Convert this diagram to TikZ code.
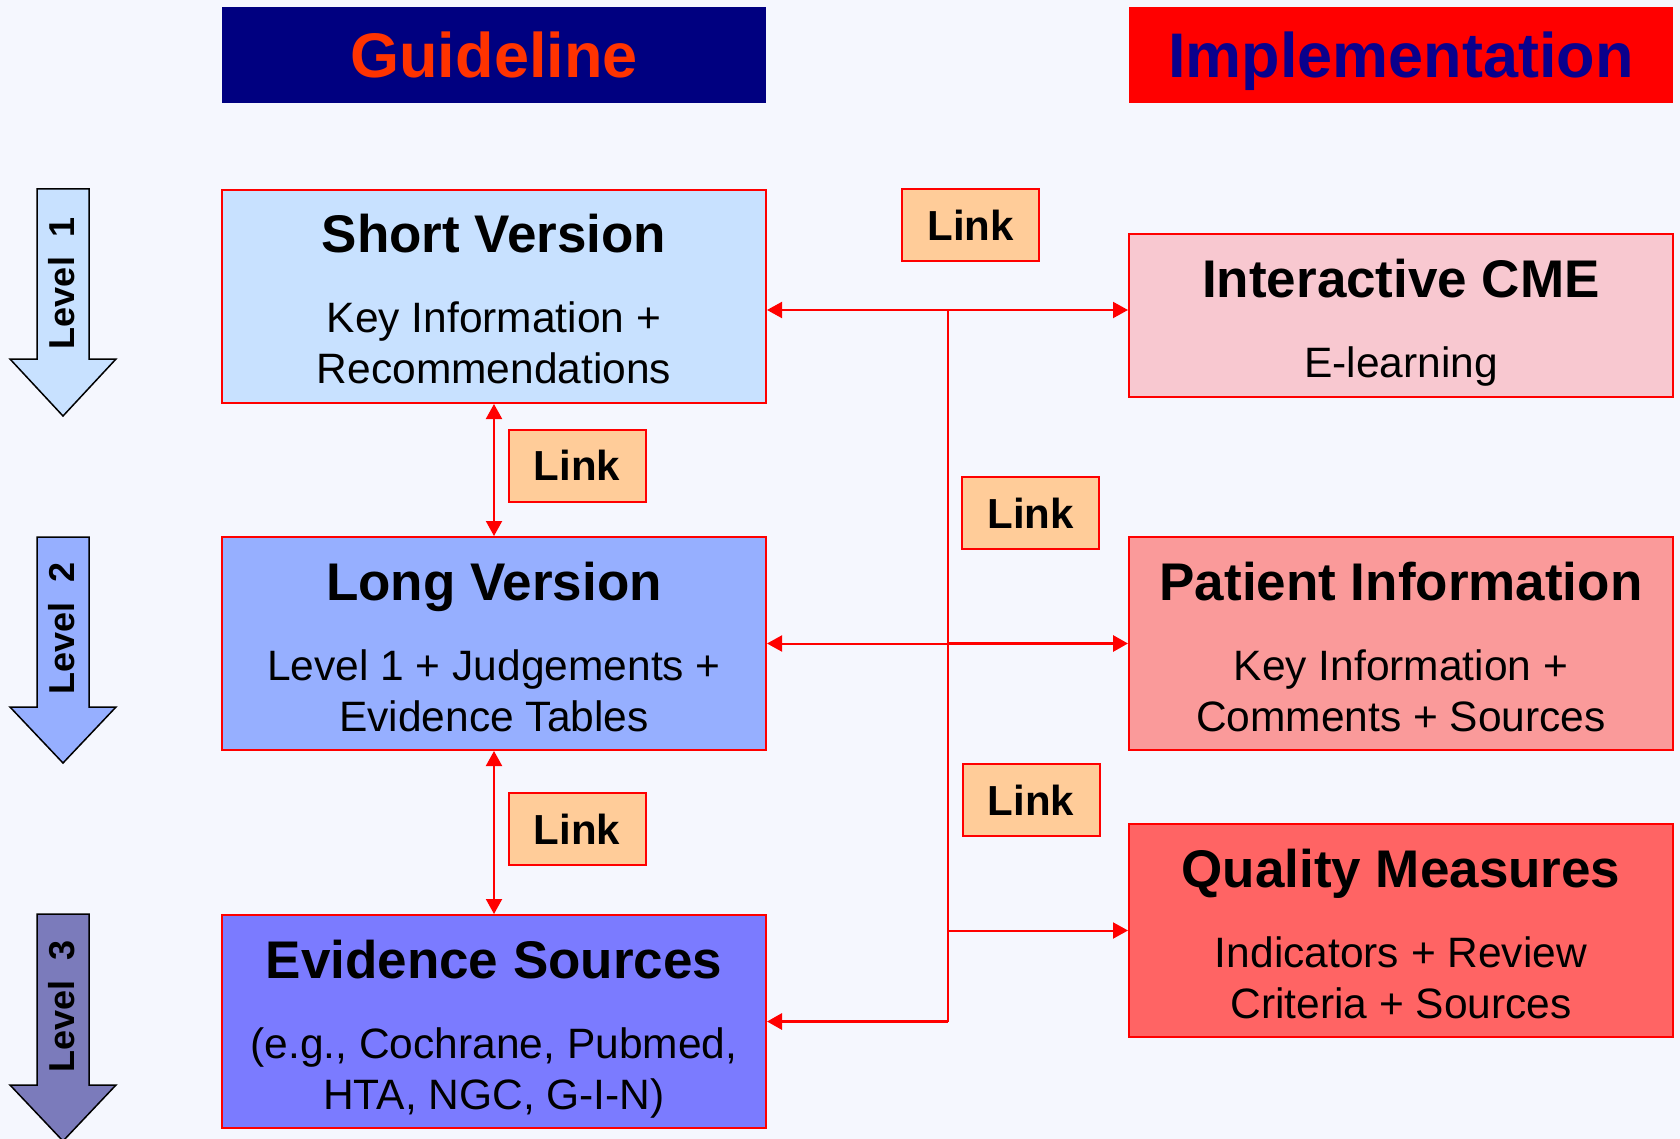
\documentclass[tikz,border=0pt]{standalone}
\usepackage{fontspec}
\setmainfont{Liberation Sans}
\usepackage{xcolor}
\usetikzlibrary{arrows.meta,shapes,positioning}

\definecolor{bgcol}{RGB}{245,247,254}
\definecolor{guidenavy}{RGB}{0,0,128}
\definecolor{guideorange}{RGB}{255,51,0}
\definecolor{implred}{RGB}{255,0,0}
\definecolor{implblue}{RGB}{10,0,140}
\definecolor{shortfill}{RGB}{200,225,255}
\definecolor{longfill}{RGB}{150,175,255}
\definecolor{evidfill}{RGB}{123,123,255}
\definecolor{cmefill}{RGB}{248,200,208}
\definecolor{patfill}{RGB}{250,154,154}
\definecolor{qualfill}{RGB}{255,100,100}
\definecolor{linkfill}{RGB}{255,204,153}
\definecolor{levthree}{RGB}{123,123,187}

\newcommand{\headsize}{\fontsize{31.5}{38}\selectfont\bfseries}
\newcommand{\titlesize}{\fontsize{26.5}{32}\selectfont\bfseries}
\newcommand{\bodysize}{\fontsize{21.25}{25.5}\selectfont}
\newcommand{\linksize}{\fontsize{21}{25}\selectfont\bfseries}
\newcommand{\levelsize}{\fontsize{18}{22}\selectfont\bfseries}

\tikzset{
    header/.style={minimum width=272pt, minimum height=48pt, inner sep=0pt,
        text height=23pt, text depth=0pt, font=\headsize},
    infobox/.style={draw=red, line width=1pt, minimum width=272pt, inner sep=0pt},
    linkbox/.style={draw=red, line width=1pt, fill=linkfill, minimum width=68.5pt,
        minimum height=36pt, inner sep=0pt, text height=15.3pt, text depth=0pt, font=\linksize},
    boxtitle/.style={anchor=base, inner sep=0pt, font=\titlesize},
    boxtext/.style={anchor=base, inner sep=0pt, font=\bodysize},
    levelarrow/.style={draw=black, line width=0.75pt, line join=miter},
    leveltext/.style={rotate=90, inner sep=0pt, text height=13pt, text depth=0pt, font=\levelsize},
    conn/.style={draw=red, line width=1pt, >={Triangle[length=7.5pt,width=8pt]}},
}

\begin{document}
\begin{tikzpicture}[x=0.5pt,y=-0.5pt]
        \useasboundingbox (0,0) rectangle (1680,1139);
        \fill[bgcol] (0,0) rectangle (1680,1139);

        % headers
        \node[header, fill=guidenavy, text=guideorange] (guide) at (494,55) {Guideline};
        \node[header, fill=implred, text=implblue] (impl) at (1401,55) {Implementation};

        % guideline levels
        \node[infobox, fill=shortfill, minimum height=106.5pt] (short) at (494,296.5) {};
        \node[boxtitle] (shortT) at (494,252) {Short Version};
        \node[boxtext] (shortA) at (494,332) {Key Information +};
        \node[boxtext] (shortB) at (494,383) {Recommendations};

        \node[infobox, fill=longfill, minimum height=106.5pt] (long) at (494,643.5) {};
        \node[boxtitle] (longT) at (494,600) {Long Version};
        \node[boxtext] (longA) at (494,680) {Level 1 + Judgements +};
        \node[boxtext] (longB) at (494,731) {Evidence Tables};

        \node[infobox, fill=evidfill, minimum height=106.5pt] (evid) at (494,1021.5) {};
        \node[boxtitle] (evidT) at (494,978) {Evidence Sources};
        \node[boxtext] (evidA) at (494,1058) {(e.g., Cochrane, Pubmed,};
        \node[boxtext] (evidB) at (494,1109) {HTA, NGC, G-I-N)};

        % implementation
        \node[infobox, fill=cmefill, minimum height=81.5pt] (cme) at (1401,315.5) {};
        \node[boxtitle] (cmeT) at (1401,297) {Interactive CME};
        \node[boxtext] (cmeA) at (1401,377) {E-learning};

        \node[infobox, fill=patfill, minimum height=106.5pt] (patient) at (1401,643.5) {};
        \node[boxtitle] (patientT) at (1401,600) {Patient Information};
        \node[boxtext] (patientA) at (1401,680) {Key Information +};
        \node[boxtext] (patientB) at (1401,731) {Comments + Sources};

        \node[infobox, fill=qualfill, minimum height=106.5pt] (qual) at (1401,930.5) {};
        \node[boxtitle] (qualT) at (1401,887) {Quality Measures};
        \node[boxtext] (qualA) at (1401,967) {Indicators + Review};
        \node[boxtext] (qualB) at (1401,1018) {Criteria + Sources};

        % link labels
        \node[linkbox] (link1) at (970.5,225.5) {Link\hspace{4pt}};
        \node[linkbox] (link2) at (577,465.5) {Link\hspace{4pt}};
        \node[linkbox] (link3) at (577,829) {Link\hspace{4pt}};
        \node[linkbox] (link4) at (1030.5,513) {Link\hspace{4pt}};
        \node[linkbox] (link5) at (1031,800) {Link\hspace{4pt}};

        % level arrows
        \filldraw[levelarrow, fill=shortfill] (37,189) -- (89,189) -- (89,359) -- (116,359)
            -- (63,416) -- (10,359) -- (37,359) -- cycle;
        \node[leveltext] (lev1) at (61,283) {Level~~1};
        \filldraw[levelarrow, fill=longfill] (37,537) -- (89,537) -- (89,707) -- (116,707)
            -- (63,763) -- (10,707) -- (37,707) -- cycle;
        \node[leveltext] (lev2) at (61,628) {Level~~2};
        \filldraw[levelarrow, fill=levthree] (37,914) -- (89,914) -- (89,1085) -- (116,1085)
            -- (63,1141) -- (10,1085) -- (37,1085) -- cycle;
        \node[leveltext] (lev3) at (61,1006) {Level~~3};

        % connectors
        \coordinate (j1) at (948,310);
        \coordinate (j2) at (948,643.5);
        \coordinate (j3) at (948,930.5);
        \coordinate (j4) at (948,1021.5);

        \draw[conn] (j1) -- (j4);
        \draw[conn,<-] (short.east |- j1) -- (j1);
        \draw[conn,->] (j1) -- (cme.west |- j1);
        \draw[conn,<-] (long.east) -- (j2);
        \draw[conn,->,line width=1.5pt] (j2) -- (patient.west);
        \draw[conn,->] (j3) -- (qual.west);
        \draw[conn,->,line width=1.5pt] (j4) -- (evid.east);
        \draw[conn,<->] (short.south) -- (long.north);
        \draw[conn,<->] (long.south) -- (evid.north);
    \end{tikzpicture}
\end{document}
